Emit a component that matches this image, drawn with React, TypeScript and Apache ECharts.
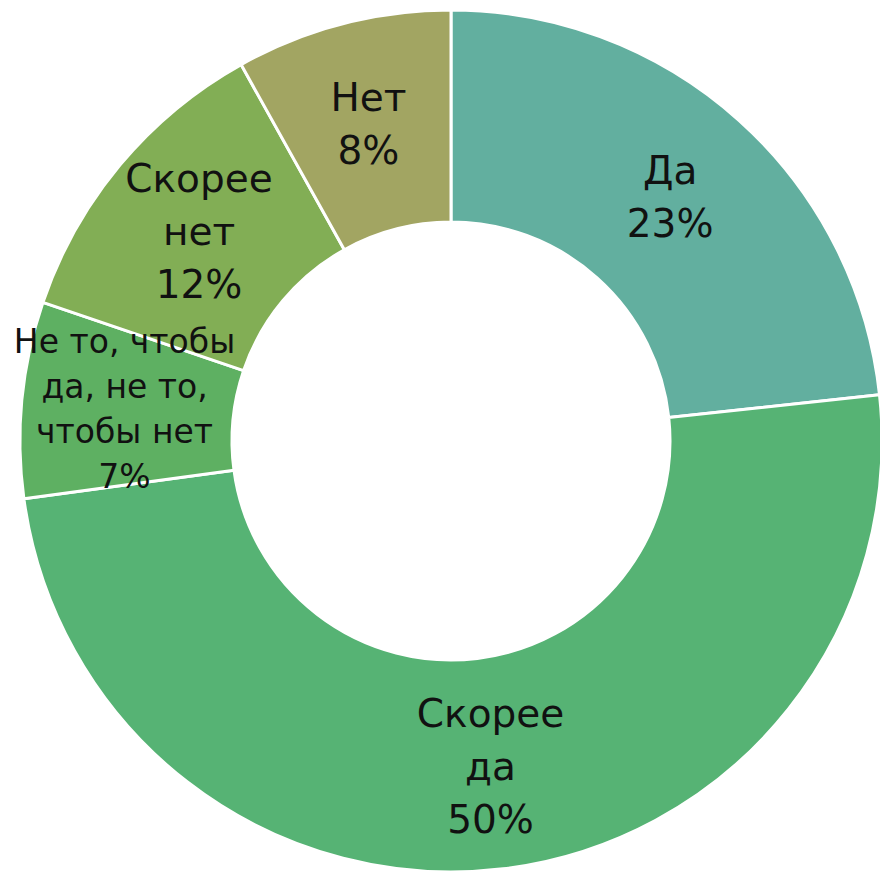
import React, { useEffect, useRef } from "react";
import * as echarts from "echarts";

const categories = ["Да", "Скорее да", "Не то, чтобы\nда, не то,\nчтобы нет", "Скорее нет", "Нет"];
const labelNames = ["Да", "Скорее\nда", "Не то, чтобы\nда, не то,\nчтобы нет", "Скорее\nнет", "Нет"];
const values = [23.3, 49.6, 7.35, 11.7, 8.1];
const colors = ["#62AF9F", "#56B374", "#5EB062", "#82AE55", "#A2A562"];

export default function App() {
  const ref = useRef<HTMLDivElement>(null);
  useEffect(() => {
    document.body.style.margin = "0";
    const chart = echarts.init(ref.current!, null, { renderer: "svg" });
    chart.setOption({
      animation: false,
      series: [
        {
          type: "pie",
          center: [451, 441],
          radius: [219, 431],
          startAngle: 90,
          clockwise: true,
          percentPrecision: 0,
          itemStyle: { borderColor: "#ffffff", borderWidth: 3 },
          label: {
            show: true,
            position: "inside",
            color: "#111111",
            fontFamily: "DejaVu Sans",
            fontSize: 39,
            lineHeight: 53,
            formatter: (p: any) => `${labelNames[p.dataIndex]}\n${Math.round(p.percent)}%`,
          },
          labelLine: { show: false },
          emphasis: { disabled: true },
          data: categories.map((c, i) => ({
            name: c,
            value: values[i],
            itemStyle: { color: colors[i] },
            label: i === 2 ? { fontSize: 33, lineHeight: 45 } : undefined,
          })),
        },
      ],
    });
    return () => chart.dispose();
  }, []);
  return <div ref={ref} style={{ width: 880, height: 874 }} />;
}
